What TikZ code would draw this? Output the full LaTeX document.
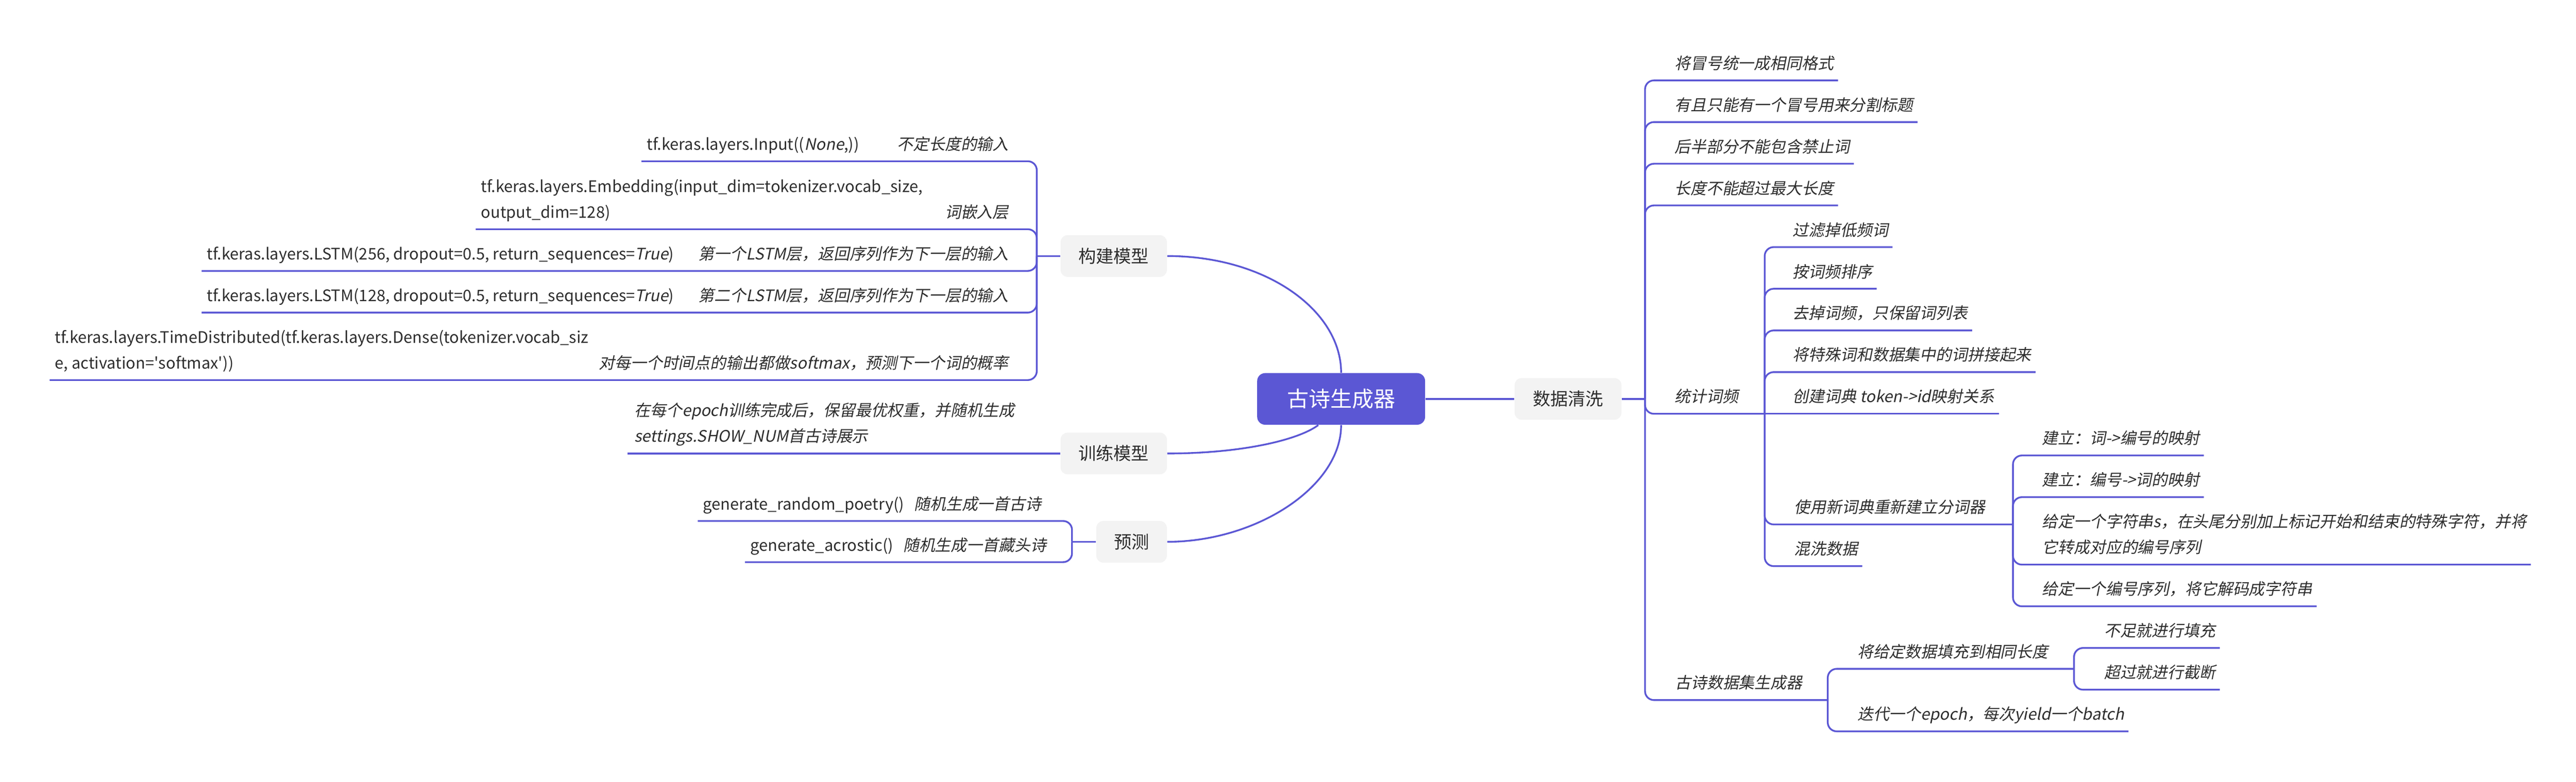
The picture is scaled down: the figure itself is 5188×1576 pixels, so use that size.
\documentclass[tikz,border=0pt]{standalone}
\usepackage{fontspec}
\setmainfont{Noto Sans CJK SC}[ItalicFont={Noto Sans CJK SC},ItalicFeatures={FakeSlant=0.2}]
\usetikzlibrary{calc}

\definecolor{mapblue}{RGB}{91,87,212}
\definecolor{topicgray}{RGB}{243,243,243}
\definecolor{ink}{RGB}{45,45,45}

\newcommand{\ulstrut}{\rule[-0.22cm]{0pt}{0.1cm}}

\tikzset{
    rootbox/.style={fill=mapblue, text=white, rounded corners=0.16cm, minimum width=3.38cm, minimum height=1.04cm, font=\fontsize{0.436cm}{0.5cm}\selectfont},
    topic/.style={fill=topicgray, text=ink, rounded corners=0.14cm, minimum height=0.84cm, font=\fontsize{0.355cm}{0.45cm}\selectfont},
    leaf/.style={anchor=south west, inner xsep=0.08cm, inner ysep=0pt, align=left, text=ink, font=\fontsize{0.32cm}{0.52cm}\selectfont\itshape, execute at end node=\ulstrut},
    code/.style={leaf, inner xsep=0.1cm, font=\fontsize{0.32cm}{0.52cm}\selectfont},
    note/.style={leaf, anchor=south east},
    conn/.style={draw=mapblue, line width=1pt, rounded corners=0.18cm}
}

\begin{document}
\begin{tikzpicture}[x=0.01cm, y=-0.01cm]
        \useasboundingbox (0,0) rectangle (5188,1576);

        % centre and main branches
        \node[rootbox] (poem) at (2701,804) {古诗生成器};
        \node[topic, minimum width=2.14cm] (build) at (2243,516) {构建模型};
        \node[topic, minimum width=2.14cm] (train) at (2243,914) {训练模型};
        \node[topic, minimum width=1.42cm] (pred) at (2279,1092) {预测};
        \node[topic, minimum width=2.15cm] (clean) at (3158,804) {数据清洗};

        \coordinate (jbuild) at (2088,516);
        \coordinate (jpred) at (2159,1092);
        \coordinate (jclean) at (3313,804);
        \coordinate (jcount) at (3554,834);
        \coordinate (jtok) at (4054,1057);
        \coordinate (jgen) at (3681,1411);
        \coordinate (jpad) at (4177,1348);

        % model layers
        \node[code] (inp) at (1292,325) {tf.keras.layers.Input((\textit{None},))};
        \node[note] (inpn) at (2040,325) {不定长度的输入};
        \node[code] (emb) at (958,462) {tf.keras.layers.Embedding(input\_dim=tokenizer.vocab\_size,\\output\_dim=128)};
        \node[note] (embn) at (2040,462) {词嵌入层};
        \node[code] (lstma) at (406,546) {tf.keras.layers.LSTM(256, dropout=0.5, return\_sequences=\textit{True})};
        \node[note] (lstman) at (2040,546) {第一个LSTM层，返回序列作为下一层的输入};
        \node[code] (lstmb) at (406,630) {tf.keras.layers.LSTM(128, dropout=0.5, return\_sequences=\textit{True})};
        \node[note] (lstmbn) at (2040,630) {第二个LSTM层，返回序列作为下一层的输入};
        \node[code] (dense) at (100,766) {tf.keras.layers.TimeDistributed(tf.keras.layers.Dense(tokenizer.vocab\_siz\\e, activation=\textquotesingle softmax\textquotesingle))};
        \node[note] (densen) at (2040,766) {对每一个时间点的输出都做softmax，预测下一个词的概率};

        % training and prediction
        \node[leaf, inner xsep=0.13cm] (save) at (1264,914) {在每个epoch训练完成后，保留最优权重，并随机生成\\settings.SHOW\_NUM首古诗展示};
        \node[leaf, anchor=south east, inner xsep=0.1cm] (rand) at (2108,1050) {{\upshape generate\_random\_poetry()}\hspace{0.2cm}随机生成一首古诗};
        \node[leaf, anchor=south east, inner xsep=0.1cm] (acro) at (2118,1133) {{\upshape generate\_acrostic()}\hspace{0.2cm}随机生成一首藏头诗};

        % data cleaning
        \node[leaf] (k1) at (3364,162) {将冒号统一成相同格式};
        \node[leaf] (k2) at (3364,246) {有且只能有一个冒号用来分割标题};
        \node[leaf] (k3) at (3364,330) {后半部分不能包含禁止词};
        \node[leaf] (k4) at (3364,414) {长度不能超过最大长度};
        \node[leaf] (k5) at (3364,834) {统计词频};
        \node[leaf] (k6) at (3365,1411) {古诗数据集生成器};

        \node[leaf] (s1) at (3602,498) {过滤掉低频词};
        \node[leaf] (s2) at (3602,582) {按词频排序};
        \node[leaf] (s3) at (3602,666) {去掉词频，只保留词列表};
        \node[leaf] (s4) at (3602,750) {将特殊词和数据集中的词拼接起来};
        \node[leaf] (s5) at (3602,834) {创建词典 token->id映射关系};
        \node[leaf] (s6) at (3605,1057) {使用新词典重新建立分词器};
        \node[leaf] (s7) at (3605,1141) {混洗数据};

        \node[leaf] (u1) at (4104,918) {建立：词->编号的映射};
        \node[leaf] (u2) at (4104,1002) {建立：编号->词的映射};
        \node[leaf] (u3) at (4104,1138) {给定一个字符串s，在头尾分别加上标记开始和结束的特殊字符，并将\\它转成对应的编号序列};
        \node[leaf] (u4) at (4104,1222) {给定一个编号序列，将它解码成字符串};

        \node[leaf] (g1) at (3732,1348) {将给定数据填充到相同长度};
        \node[leaf] (g2) at (3732,1474) {迭代一个epoch，每次yield一个batch};
        \node[leaf] (p1) at (4229,1306) {不足就进行填充};
        \node[leaf] (p2) at (4229,1390) {超过就进行截断};

        % branches out of the centre
        \draw[conn] (build.east) .. controls +(200,0) and +(0,-125) .. (poem.north);
        \draw[conn] (train.east) .. controls +(150,0) and +(-40,30) .. ([xshift=-0.46cm]poem.south);
        \draw[conn] (pred.east) .. controls +(180,0) and +(0,124) .. (poem.south);
        \draw[conn] (poem.east) -- (clean.west);

        % model layers
        \draw[conn] (build.west) -- (jbuild);
        \draw[conn] (jbuild) |- (inpn.south east) -- (inp.south west);
        \draw[conn] (jbuild) |- (embn.south east) -- (emb.south west);
        \draw[conn] (jbuild) |- (lstman.south east) -- (lstma.south west);
        \draw[conn] (jbuild) |- (lstmbn.south east) -- (lstmb.south west);
        \draw[conn] (jbuild) |- (densen.south east) -- (dense.south west);

        \draw[conn] (train.west) -- (save.south east) -- (save.south west);

        \draw[conn] (pred.west) -- (jpred);
        \draw[conn] (jpred) |- (rand.south east) -- (rand.south west);
        \draw[conn] (jpred) |- (acro.south east) -- (acro.south west);

        % data cleaning
        \draw[conn] (clean.east) -- (jclean);
        \draw[conn] (jclean) |- (k1.south west) -- (k1.south east);
        \draw[conn] (jclean) |- (k2.south west) -- (k2.south east);
        \draw[conn] (jclean) |- (k3.south west) -- (k3.south east);
        \draw[conn] (jclean) |- (k4.south west) -- (k4.south east);
        \draw[conn] (jclean) |- (k5.south west) -- (k5.south east) -- (jcount);
        \draw[conn] (jclean) |- (k6.south west) -- (k6.south east) -- (jgen);

        \draw[conn] (jcount) |- (s1.south west) -- (s1.south east);
        \draw[conn] (jcount) |- (s2.south west) -- (s2.south east);
        \draw[conn] (jcount) |- (s3.south west) -- (s3.south east);
        \draw[conn] (jcount) |- (s4.south west) -- (s4.south east);
        \draw[conn] (jcount) -- (s5.south west) -- (s5.south east);
        \draw[conn] (jcount) |- (s6.south west) -- (s6.south east) -- (jtok);
        \draw[conn] (jcount) |- (s7.south west) -- (s7.south east);

        \draw[conn] (jtok) |- (u1.south west) -- (u1.south east);
        \draw[conn] (jtok) |- (u2.south west) -- (u2.south east);
        \draw[conn] (jtok) |- (u3.south west) -- (u3.south east);
        \draw[conn] (jtok) |- (u4.south west) -- (u4.south east);

        \draw[conn] (jgen) |- (g1.south west) -- (g1.south east) -- (jpad);
        \draw[conn] (jgen) |- (g2.south west) -- (g2.south east);
        \draw[conn] (jpad) |- (p1.south west) -- (p1.south east);
        \draw[conn] (jpad) |- (p2.south west) -- (p2.south east);

\end{tikzpicture}
\end{document}
